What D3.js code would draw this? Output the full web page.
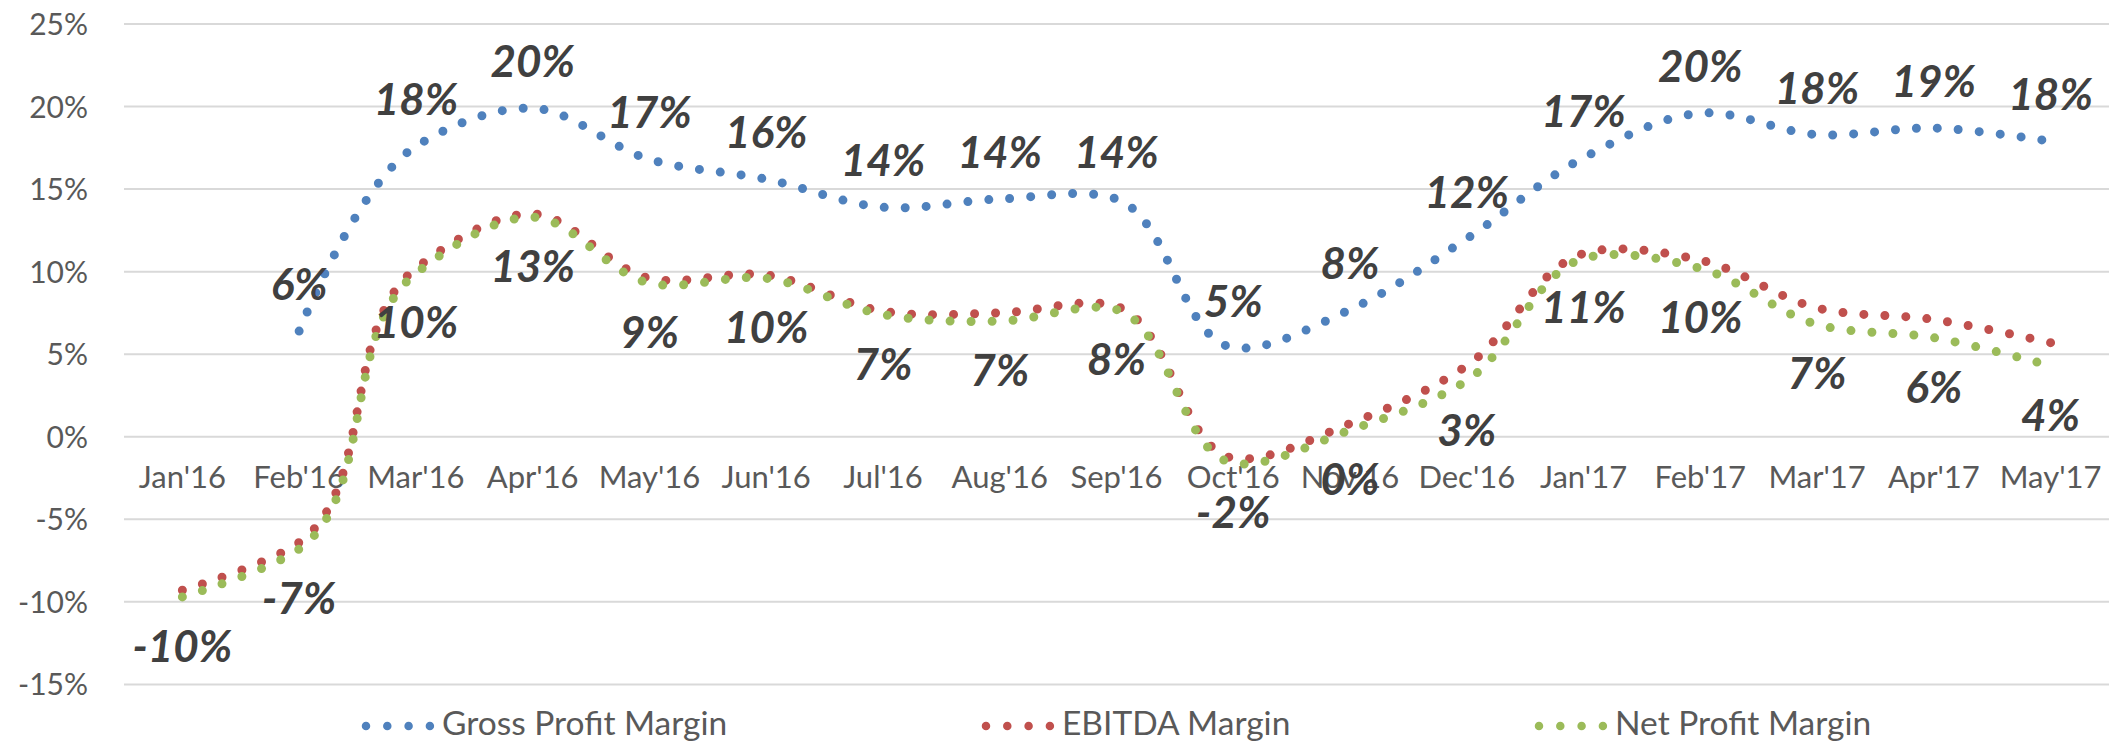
<html>
  <head>
    <script src="https://cdn.jsdelivr.net/npm/d3@7"></script>
    <style>
      body { margin: 0; background: #fff; }
      svg text { font-family: Lato, "Open Sans", sans-serif; }
    </style>
  </head>
  <body>
    <svg id="chart" width="2114" height="743"></svg>

    <script>
      var months = ["Jan'16", "Feb'16", "Mar'16", "Apr'16", "May'16", "Jun'16", "Jul'16", "Aug'16",
        "Sep'16", "Oct'16", "Nov'16", "Dec'16", "Jan'17", "Feb'17", "Mar'17", "Apr'17", "May'17"];

      // values in %
      var grossMargin = [null, 6.4, 17.6, 19.9, 16.8, 15.6, 13.9, 14.4, 14.4, 5.4, 7.7, 12.0, 16.9, 19.6, 18.3, 18.7, 17.9];
      var ebitdaMargin = [-9.3, -6.4, 10.2, 13.5, 9.6, 9.8, 7.6, 7.5, 7.9, -1.3, 0.8, 4.3, 11.1, 10.7, 7.8, 7.1, 5.7];
      var netMargin = [-9.7, -6.8, 9.9, 13.3, 9.3, 9.6, 7.4, 7.0, 7.7, -1.6, 0.4, 3.4, 10.8, 10.2, 6.8, 6.0, 4.3];

      var yTicks = [-15, -10, -5, 0, 5, 10, 15, 20, 25];

      var series = [
        { name: "Gross Profit Margin", values: grossMargin, color: "#4f81bd", legendX: 366 },
        { name: "EBITDA Margin", values: ebitdaMargin, color: "#c0504d", legendX: 986 },
        { name: "Net Profit Margin", values: netMargin, color: "#9bbb59", legendX: 1539 }
      ];

      var svg = d3.select("#chart");
      var left = 124, right = 2109;

      var x = d3.scaleBand().domain(months).range([left, right]);
      var y = d3.scaleLinear().domain([-15, 25]).range([684.4, 24]);
      var cx = function(m) { return x(m) + x.bandwidth() / 2; };

      // gridlines
      svg.append("g").selectAll("line")
        .data(yTicks)
        .join("line")
        .attr("x1", left).attr("x2", right)
        .attr("y1", function(d) { return y(d); })
        .attr("y2", function(d) { return y(d); })
        .attr("stroke", "#d9d9d9")
        .attr("stroke-width", 2);

      // y labels
      svg.append("g").selectAll("text")
        .data(yTicks)
        .join("text")
        .attr("x", 88)
        .attr("y", function(d) { return y(d) + 11; })
        .attr("text-anchor", "end")
        .attr("font-size", 30)
        .attr("fill", "#595959")
        .text(function(d) { return d + "%"; });

      // x labels, sitting under the 0 line
      svg.append("g").selectAll("text")
        .data(months)
        .join("text")
        .attr("x", cx)
        .attr("y", 488)
        .attr("text-anchor", "middle")
        .attr("font-size", 31)
        .attr("fill", "#595959")
        .text(function(d) { return d; });

      // chordal catmull-rom is closest to excel's smoothed line (less overshoot)
      var line = d3.line()
        .defined(function(d) { return d != null; })
        .x(function(d, i) { return cx(months[i]); })
        .y(function(d) { return y(d); })
        .curve(d3.curveCatmullRom.alpha(1));

      series.forEach(function(s) {
        svg.append("path")
          .attr("d", line(s.values))
          .attr("fill", "none")
          .attr("stroke", s.color)
          .attr("stroke-width", 9)
          .attr("stroke-linecap", "round")
          .attr("stroke-dasharray", "0 21");
      });

      // legend
      series.forEach(function(s) {
        svg.append("path")
          .attr("d", "M" + s.legendX + ",726H" + (s.legendX + 64))
          .attr("stroke", s.color)
          .attr("stroke-width", 8.5)
          .attr("stroke-linecap", "round")
          .attr("stroke-dasharray", "0 21.3");
        svg.append("text")
          .attr("x", s.legendX + 76)
          .attr("y", 735)
          .attr("font-size", 33.5)
          .attr("fill", "#595959")
          .text(s.name);
      });

      var fmt = function(v) { return Math.round(v) + "%"; };

      // data labels: gross above the points, net below
      svg.append("g").selectAll("text")
        .data(grossMargin.map(function(v, i) { return { v: v, m: months[i] }; }).filter(function(d) { return d.v != null; }))
        .join("text")
        .attr("x", function(d) { return cx(d.m); })
        .attr("y", function(d) { return y(d.v) - 31; })
        .attr("text-anchor", "middle")
        .attr("font-size", 44)
        .attr("font-weight", "bold")
        .attr("font-style", "italic")
        .attr("fill", "#404040")
        .text(function(d) { return fmt(d.v); });

      svg.append("g").selectAll("text")
        .data(netMargin.map(function(v, i) { return { v: v, m: months[i] }; }))
        .join("text")
        .attr("x", function(d) { return cx(d.m); })
        .attr("y", function(d) { return y(d.v) + 65; })
        .attr("text-anchor", "middle")
        .attr("font-size", 44)
        .attr("font-weight", "bold")
        .attr("font-style", "italic")
        .attr("fill", "#404040")
        .text(function(d) { return fmt(d.v); });
    </script>
  </body>
</html>
